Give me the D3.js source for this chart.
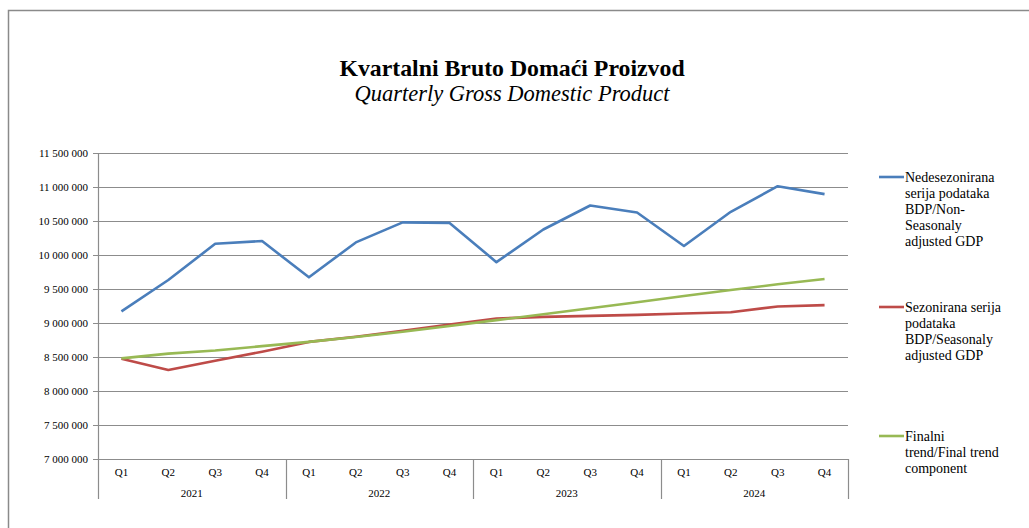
<!DOCTYPE html>
<html>
<head>
<meta charset="utf-8">
<script src="https://cdn.jsdelivr.net/npm/d3@7"></script>
<style>
  html, body { margin: 0; padding: 0; background: #fff; }
  svg { display: block; }
</style>
</head>
<body>
<svg id="chart" width="1029" height="528"></svg>
<script>
const years = ["2021", "2022", "2023", "2024"];
const quarters = ["Q1", "Q2", "Q3", "Q4"];
const yTicks = [7000000, 7500000, 8000000, 8500000, 9000000, 9500000, 10000000, 10500000, 11000000, 11500000];

const nonSeasonal = [9172000, 9632000, 10165000, 10205000, 9672000, 10185000, 10480000, 10472000,
                     9895000, 10375000, 10728000, 10625000, 10132000, 10635000, 11012000, 10895000];
const seasonal    = [8475000, 8309000, 8446000, 8578000, 8722000, 8799000, 8887000, 8978000,
                     9066000, 9090000, 9105000, 9120000, 9140000, 9157000, 9243000, 9263000];
const trend       = [8480000, 8550000, 8595000, 8660000, 8722000, 8795000, 8872000, 8956000,
                     9042000, 9128000, 9216000, 9306000, 9397000, 9485000, 9569000, 9647000];

const seriesNames = [
  ["Nedesezonirana", "serija podataka", "BDP/Non-", "Seasonaly", "adjusted GDP"],
  ["Sezonirana serija", "podataka", "BDP/Seasonaly", "adjusted GDP"],
  ["Finalni", "trend/Final trend", "component"]
];
const colors = ["#4a7ebb", "#be4b48", "#98b954"];

const cats = [];
years.forEach(yr => quarters.forEach(q => cats.push(yr + "-" + q)));

const svg = d3.select("#chart");
const W = 1029, H = 528;
const pLeft = 98, pRight = 848, pTop = 153, pBottom = 459;
const gridColor = "#8c8c8c";
const serif = "'Liberation Serif', 'Times New Roman', serif";

// outer frame
svg.append("path")
  .attr("d", `M8.5,${H} L8.5,10.5 L${W},10.5`)
  .attr("fill", "none").attr("stroke", "#8a8a8a").attr("stroke-width", 1.5);

// title
svg.append("text").attr("x", 512).attr("y", 76).attr("text-anchor", "middle")
  .attr("font-family", serif).attr("font-weight", "bold").attr("font-size", 23.8)
  .attr("fill", "#000").text("Kvartalni Bruto Domaći Proizvod");
svg.append("text").attr("x", 512).attr("y", 101).attr("text-anchor", "middle")
  .attr("font-family", serif).attr("font-style", "italic").attr("font-size", 22.5)
  .attr("fill", "#000").text("Quarterly Gross Domestic Product");

const x = d3.scaleBand().domain(cats).range([pLeft, pRight]).padding(0);
const y = d3.scaleLinear().domain([7000000, 11500000]).range([pBottom, pTop]);

const fmt = v => d3.format(",")(v).replace(/,/g, " ");

// y axis ticks + labels
const yAxis = d3.axisLeft(y).tickValues(yTicks).tickFormat(fmt).tickSize(5).tickPadding(5);
const yg = svg.append("g").attr("transform", `translate(${pLeft},0)`).call(yAxis);
yg.select(".domain").remove();
yg.selectAll(".tick line").attr("stroke", gridColor);
yg.selectAll(".tick text").attr("font-family", serif).attr("font-size", 11).attr("fill", "#000");

// gridlines
svg.append("g").selectAll("line").data(yTicks).join("line")
  .attr("x1", pLeft).attr("x2", pRight)
  .attr("y1", d => Math.round(y(d)) + 0.5).attr("y2", d => Math.round(y(d)) + 0.5)
  .attr("stroke", gridColor).attr("stroke-width", 1.2);

// vertical axis line
svg.append("line").attr("x1", pLeft + 0.5).attr("x2", pLeft + 0.5)
  .attr("y1", pTop).attr("y2", pBottom + 40)
  .attr("stroke", gridColor).attr("stroke-width", 1.2);

// x axis (quarters)
const xAxis = d3.axisBottom(x).tickFormat(d => d.split("-")[1]).tickSize(0).tickPadding(9);
const xg = svg.append("g").attr("transform", `translate(0,${pBottom})`).call(xAxis);
xg.select(".domain").remove();
xg.selectAll(".tick text").attr("font-family", serif).attr("font-size", 11).attr("fill", "#000");

// year separators and labels
years.forEach(yr => {
  const x0 = x(yr + "-Q1");
  const x1 = x(yr + "-Q4") + x.bandwidth();
  svg.append("line").attr("x1", Math.round(x1) + 0.5).attr("x2", Math.round(x1) + 0.5)
    .attr("y1", pBottom).attr("y2", pBottom + 40).attr("stroke", gridColor).attr("stroke-width", 1.2);
  svg.append("text").attr("x", (x0 + x1) / 2).attr("y", pBottom + 38).attr("text-anchor", "middle")
    .attr("font-family", serif).attr("font-size", 11).attr("fill", "#000").text(yr);
});

// series lines
const lineGen = d3.line().x((d, i) => x(cats[i]) + x.bandwidth() / 2).y(d => y(d));
[nonSeasonal, seasonal, trend].forEach((s, i) => {
  svg.append("path").datum(s).attr("d", lineGen)
    .attr("fill", "none").attr("stroke", colors[i]).attr("stroke-width", 2.6)
    .attr("stroke-linejoin", "round");
});

// legend
const legendY = [177, 307, 436];
seriesNames.forEach((lines, i) => {
  const g = svg.append("g");
  g.append("line").attr("x1", 879).attr("x2", 904).attr("y1", legendY[i]).attr("y2", legendY[i])
    .attr("stroke", colors[i]).attr("stroke-width", 2.6);
  lines.forEach((t, j) => {
    g.append("text").attr("x", 905).attr("y", legendY[i] + 4.5 + j * 16)
      .attr("font-family", serif).attr("font-size", 14).attr("fill", "#000").text(t);
  });
});
</script>
</body>
</html>
